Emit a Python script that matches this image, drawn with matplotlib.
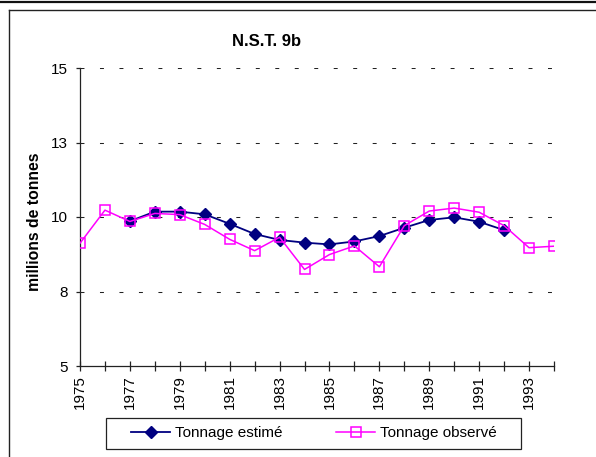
import numpy as np
import matplotlib
matplotlib.use('Agg')
import matplotlib.pyplot as plt
from matplotlib.lines import Line2D
from matplotlib.patches import Rectangle

plt.rcParams['font.family'] = ['Liberation Sans', 'DejaVu Sans']

# data
years_obs = list(range(1975, 1995))
tonnage_obs = [9.12, 10.23, 9.85, 10.12, 10.08, 9.75, 9.25, 8.87, 9.32, 8.24,
               8.74, 9.03, 8.33, 9.71, 10.20, 10.30, 10.16, 9.71, 8.97, 9.02]

years_est = list(range(1977, 1993))
tonnage_est = [9.86, 10.18, 10.18, 10.09, 9.77, 9.43, 9.23, 9.14,
               9.08, 9.18, 9.36, 9.64, 9.90, 9.99, 9.84, 9.56]

y_ticks = [5, 7.5, 10, 12.5, 15]
y_tick_labels = ['5', '8', '10', '13', '15']
x_ticks = list(range(1975, 1995))
x_tick_labels = [str(y) if (y - 1975) % 2 == 0 else '' for y in x_ticks]

W, H = 596, 457
fig = plt.figure(figsize=(W / 100, H / 100), dpi=100)
ax = fig.add_axes([80 / W, 1 - 366 / H, 474 / W, 298 / H])

ax.plot(years_est, tonnage_est, color='#000080', lw=1.3, marker='D', ms=6,
        mfc='#000080', mec='#000080', label='Tonnage estimé', zorder=3)
ax.plot(years_obs, tonnage_obs, color='#FF00FF', lw=1.1, marker='s', ms=7,
        mfc='none', mec='#FF00FF', mew=1.1, label='Tonnage observé', zorder=4)

ax.set_xlim(1975, 1994)
ax.set_ylim(5, 15)
ax.set_yticks(y_ticks)
ax.set_yticklabels(y_tick_labels, fontsize=11)
ax.set_xticks(x_ticks)
ax.set_xticklabels(x_tick_labels, rotation=90, fontsize=11)

for v in y_ticks[1:]:
    ax.axhline(v, color='#222222', lw=0.75, linestyle=(0, (3.8, 14.9)), zorder=1)

for s in ['top', 'right']:
    ax.spines[s].set_visible(False)
for s in ['left', 'bottom']:
    ax.spines[s].set_color('#222222')
    ax.spines[s].set_linewidth(0.9)
ax.tick_params(axis='y', direction='out', length=3, width=0.9, color='#222222', pad=6)
ax.tick_params(axis='x', direction='inout', length=7, width=0.9, color='#222222', pad=3)

fig.text(267 / W, 1 - 41 / H, 'N.S.T. 9b', ha='center', va='center',
         fontsize=12, fontweight='bold')
fig.text(35 / W, 1 - 222 / H, 'millions de tonnes', ha='center', va='center',
         rotation=90, fontsize=11.3, fontweight='bold')

leg = fig.legend(loc='center', bbox_to_anchor=(314 / W, 1 - 433.5 / H), ncol=2,
                 fontsize=11, frameon=False, handlelength=2.55,
                 columnspacing=3.5, borderpad=0.45, handletextpad=0.33)
# legend box drawn separately (wider than the entries)
fig.add_artist(Rectangle((106 / W, 1 - 449 / H), 415 / W, 31 / H, fill=False,
                         edgecolor='#222222', lw=0.9))

# outer frame lines
fig.add_artist(Line2D([0, 1], [1 - 1.5 / H, 1 - 1.5 / H], color='#111111', lw=1.6))
fig.add_artist(Line2D([9 / W, 1], [1 - 10 / H, 1 - 10 / H], color='#222222', lw=1.0))
fig.add_artist(Line2D([9 / W, 9 / W], [0, 1 - 10 / H], color='#222222', lw=1.0))

fig.savefig('out.png', dpi=100)
